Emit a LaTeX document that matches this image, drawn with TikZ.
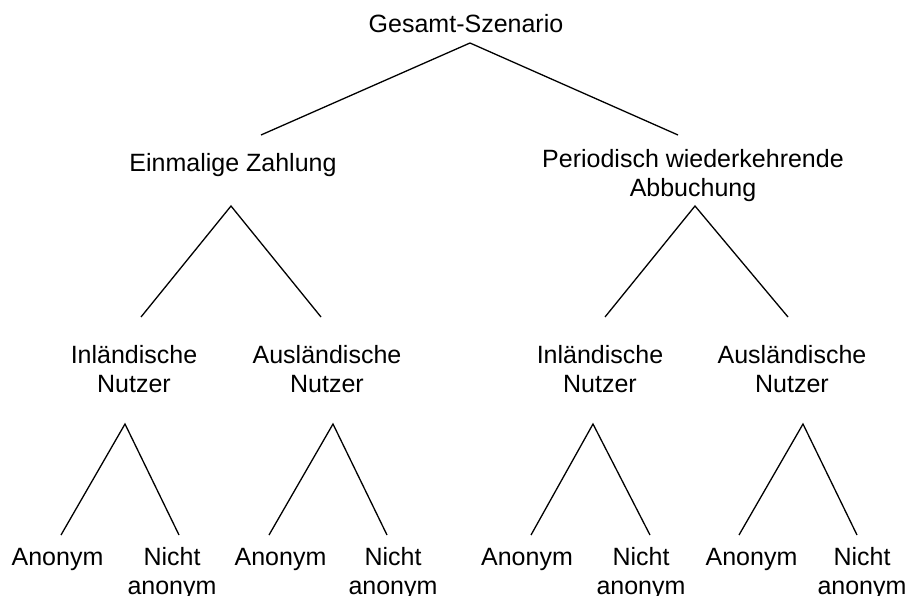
\documentclass[tikz,border=0pt]{standalone}
\usepackage{fontspec}
\setmainfont{Liberation Sans}
\begin{document}
\begin{tikzpicture}[x=1pt,y=-1pt,
  lbl/.style={anchor=base,inner sep=0pt,align=center,font=\fontsize{25}{29}\selectfont},
  edge/.style={draw=black,line width=1.3pt}]
\useasboundingbox (0,0) rectangle (911,596);
% labels (anchor = baseline of last line)
\node[lbl] (root) at (466,33) {Gesamt-Szenario};
\node[lbl] (ein) at (233,172) {Einmalige Zahlung};
\node[lbl] (per) at (693,197) {Periodisch wiederkehrende\\Abbuchung};
\node[lbl] (inl1) at (134,392) {Inländische\\Nutzer};
\node[lbl] (aus1) at (327,392) {Ausländische\\Nutzer};
\node[lbl] (inl2) at (600,392) {Inländische\\Nutzer};
\node[lbl] (aus2) at (792,392) {Ausländische\\Nutzer};
\node[lbl] (a1) at (57.5,565) {Anonym};
\node[lbl] (n1) at (172,594) {Nicht\\anonym};
\node[lbl] (a2) at (280.5,565) {Anonym};
\node[lbl] (n2) at (393,594) {Nicht\\anonym};
\node[lbl] (a3) at (527,565) {Anonym};
\node[lbl] (n3) at (641,594) {Nicht\\anonym};
\node[lbl] (a4) at (751.5,565) {Anonym};
\node[lbl] (n4) at (862,594) {Nicht\\anonym};
% connector end points
\coordinate (rootT) at (470,43);
\coordinate (einB) at (261,135);
\coordinate (perB) at (678,135);
\coordinate (einT) at (231,206);
\coordinate (inl1B) at (141,317);
\coordinate (aus1B) at (321,317);
\coordinate (perT) at (695,206);
\coordinate (inl2B) at (605,317);
\coordinate (aus2B) at (788,317);
\coordinate (inl1T) at (125,424);
\coordinate (a1B) at (61,535);
\coordinate (n1B) at (179,535);
\coordinate (aus1T) at (333,424);
\coordinate (a2B) at (269,535);
\coordinate (n2B) at (387,535);
\coordinate (inl2T) at (593,424);
\coordinate (a3B) at (531,535);
\coordinate (n3B) at (650,535);
\coordinate (aus2T) at (803,424);
\coordinate (a4B) at (739,535);
\coordinate (n4B) at (857,535);
% connectors
\draw[edge] (einB) -- (rootT) -- (perB);
\draw[edge] (inl1B) -- (einT) -- (aus1B);
\draw[edge] (inl2B) -- (perT) -- (aus2B);
\draw[edge] (a1B) -- (inl1T) -- (n1B);
\draw[edge] (a2B) -- (aus1T) -- (n2B);
\draw[edge] (a3B) -- (inl2T) -- (n3B);
\draw[edge] (a4B) -- (aus2T) -- (n4B);
\end{tikzpicture}
\end{document}
